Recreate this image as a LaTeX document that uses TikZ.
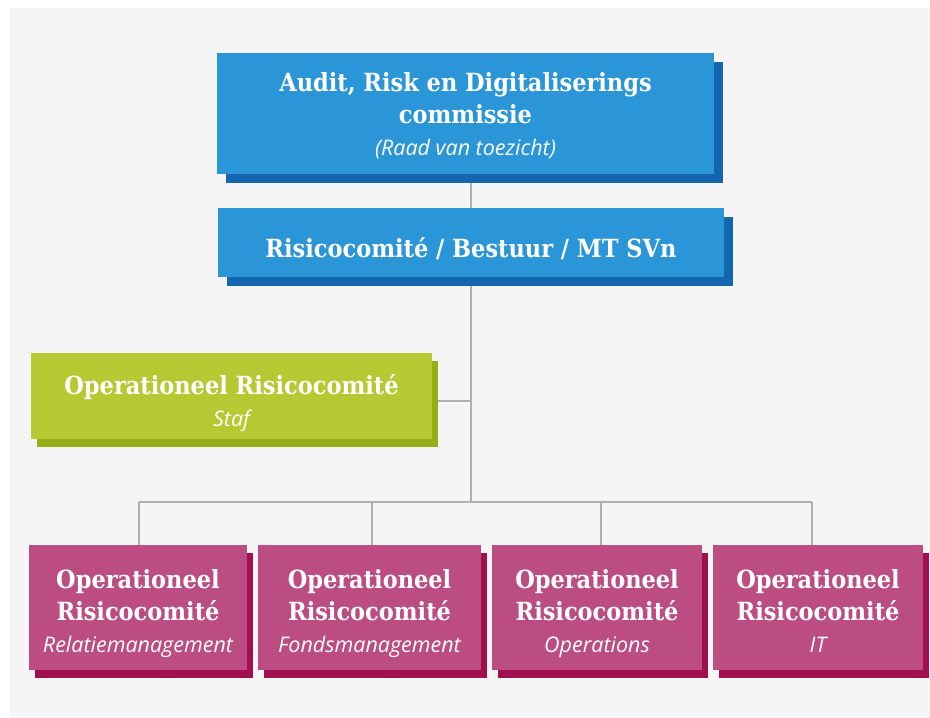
\documentclass[tikz,border=0pt]{standalone}
\usepackage{fontspec}
\usetikzlibrary{backgrounds}
\newfontfamily\slabfont{DejaVu Serif Condensed}
\newfontfamily\italfont{Open Sans}
\definecolor{bgc}{HTML}{F5F5F5}
\definecolor{blueA}{HTML}{2B96D7}
\definecolor{blueS}{HTML}{1467AE}
\definecolor{greenA}{HTML}{B5C932}
\definecolor{greenS}{HTML}{96AD1A}
\definecolor{pinkA}{HTML}{BC4D82}
\definecolor{pinkS}{HTML}{A10F4E}
\definecolor{linec}{HTML}{B0B0B0}
\newcommand{\ttl}{\slabfont\bfseries\fontsize{25}{32}\selectfont}
\newcommand{\subt}[1]{{\italfont\mdseries\itshape\fontsize{21.5}{34}\selectfont #1\vphantom{g}}}
\newcommand{\topgap}[1]{\rule{0pt}{#1pt}}
\begin{document}
\begin{tikzpicture}[x=1pt,y=-1pt,
  box/.style={rectangle, inner sep=0pt, align=center, text=white, font=\ttl},
  bluebox/.style={box, fill=blueA, preaction={fill=blueS, transform canvas={shift={(9pt,-9pt)}}}},
  greenbox/.style={box, fill=greenA, preaction={fill=greenS, transform canvas={shift={(6pt,-8pt)}}}},
  pinkbox/.style={box, fill=pinkA, preaction={fill=pinkS, transform canvas={shift={(6pt,-8pt)}}}},
  conn/.style={draw=linec, line width=1.3pt}]
\path[use as bounding box] (0,0) rectangle (930,718);

\node[bluebox, minimum width=497pt, minimum height=121pt] (A) at (465.5,113.5)
  {\topgap{25}Audit, Risk en Digitaliserings\\commissie\\\subt{(Raad van toezicht)}};
\node[bluebox, minimum width=506pt, minimum height=69pt] (B) at (471,242.5)
  {\topgap{33}Risicocomité / Bestuur / MT SVn};
\node[greenbox, minimum width=401pt, minimum height=86pt] (G) at (231.5,396)
  {\topgap{34}Operationeel Risicocomité\\\subt{Staf}};
\node[pinkbox, minimum width=218pt, minimum height=125pt] (P1) at (138,607.5)
  {\topgap{31}Operationeel\\Risicocomité\\\subt{Relatiemanagement}};
\node[pinkbox, minimum width=223pt, minimum height=125pt] (P2) at (369.5,607.5)
  {\topgap{31}Operationeel\\Risicocomité\\\subt{Fondsmanagement}};
\node[pinkbox, minimum width=210pt, minimum height=125pt] (P3) at (597,607.5)
  {\topgap{31}Operationeel\\Risicocomité\\\subt{Operations}};
\node[pinkbox, minimum width=210pt, minimum height=125pt] (P4) at (818,607.5)
  {\topgap{31}Operationeel\\Risicocomité\\\subt{IT}};

\coordinate (trunk) at (471,502);
\coordinate (gj) at (471,401);
\coordinate (d1) at (139,502);
\coordinate (d2) at (372,502);
\coordinate (d3) at (601,502);
\coordinate (d4) at (812,502);

\begin{scope}[on background layer]
\fill[white] (0,0) rectangle (930,718);
\fill[bgc] (10,8) rectangle (930,718);
\draw[conn] (A.south -| trunk) -- (B.north -| trunk);
\draw[conn] (B.south -| trunk) -- (trunk);
\draw[conn] (gj -| G.east) -- (gj);
\draw[conn] (d1) -- (d4);
\draw[conn] (d1) -- (d1 |- P1.north);
\draw[conn] (d2) -- (d2 |- P2.north);
\draw[conn] (d3) -- (d3 |- P3.north);
\draw[conn] (d4) -- (d4 |- P4.north);
\end{scope}
\end{tikzpicture}
\end{document}
